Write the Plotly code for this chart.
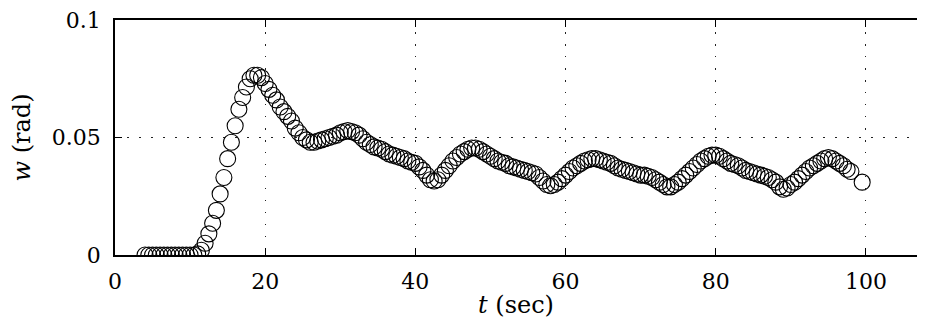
import numpy as np
import plotly.graph_objects as go

# time samples (sec)
t_sec = list(np.arange(4.0, 98.5, 0.5)) + [99.5]

# w (rad)
w_rad = [
    0, 0, 0, 0, 0, 0, 0, 0, 0, 0, 0, 0, 0, 0,                 # 4.0 - 10.5
    0.0005, 0.002, 0.005, 0.009, 0.0135, 0.019, 0.026, 0.033,  # 11.0 - 14.5
    0.041, 0.048, 0.055, 0.062, 0.067, 0.0715, 0.075, 0.0765,  # 15.0 - 18.5
    0.0765, 0.0755, 0.073, 0.0705, 0.068, 0.066, 0.063, 0.061, # 19.0 - 22.5
    0.059, 0.057, 0.054, 0.052, 0.050, 0.049, 0.048, 0.048,    # 23.0 - 26.5
    0.0485, 0.049, 0.0495, 0.050, 0.0505, 0.051, 0.052, 0.0525, # 27.0 - 30.5
    0.053, 0.0525, 0.052, 0.051, 0.0495, 0.048, 0.047, 0.046,  # 31.0 - 34.5
    0.0455, 0.045, 0.044, 0.043, 0.0425, 0.042, 0.0415, 0.041, # 35.0 - 38.5
    0.040, 0.0395, 0.039, 0.0375, 0.036, 0.034, 0.032, 0.0315, # 39.0 - 42.5
    0.032, 0.034, 0.036, 0.038, 0.040, 0.0415, 0.043, 0.044,   # 43.0 - 46.5
    0.045, 0.0455, 0.0455, 0.045, 0.044, 0.043, 0.042, 0.041,  # 47.0 - 50.5
    0.040, 0.0395, 0.039, 0.038, 0.0375, 0.037, 0.0365, 0.036, # 51.0 - 54.5
    0.0355, 0.035, 0.0345, 0.033, 0.0315, 0.030, 0.0295, 0.030, # 55.0 - 58.5
    0.031, 0.0325, 0.034, 0.0355, 0.037, 0.038, 0.039, 0.040,  # 59.0 - 62.5
    0.0405, 0.041, 0.041, 0.0405, 0.040, 0.0395, 0.039, 0.038, # 63.0 - 66.5
    0.037, 0.0365, 0.036, 0.0355, 0.035, 0.0345, 0.034, 0.034, # 67.0 - 70.5
    0.0335, 0.033, 0.032, 0.031, 0.030, 0.029, 0.029, 0.030,   # 71.0 - 74.5
    0.031, 0.0325, 0.034, 0.0355, 0.037, 0.0385, 0.040, 0.041, # 75.0 - 78.5
    0.042, 0.0425, 0.0425, 0.042, 0.041, 0.040, 0.039, 0.0385, # 79.0 - 82.5
    0.038, 0.037, 0.036, 0.0355, 0.035, 0.0345, 0.034, 0.0335, # 83.0 - 86.5
    0.033, 0.032, 0.031, 0.029, 0.028, 0.0285, 0.030, 0.031,   # 87.0 - 90.5
    0.0325, 0.034, 0.0355, 0.037, 0.038, 0.039, 0.040, 0.041,  # 91.0 - 94.5
    0.0415, 0.041, 0.040, 0.039, 0.038, 0.0365, 0.0355,        # 95.0 - 98.0
    0.031,                                                     # 99.5
]

x_ticks = [0, 20, 40, 60, 80, 100]
y_ticks = [0, 0.05, 0.1]
y_tick_labels = ["0", "0.05", "0.1"]

FONT = "DejaVu Serif"

fig = go.Figure()
fig.add_trace(go.Scatter(
    x=t_sec, y=w_rad, mode="markers",
    marker=dict(symbol="circle-open", size=16, color="black",
                line=dict(width=1.1, color="black")),
    showlegend=False,
))

fig.update_layout(
    width=909, height=311,
    margin=dict(l=107, r=0, t=12, b=64, autoexpand=False),
    paper_bgcolor="white", plot_bgcolor="white",
    font=dict(family=FONT, size=22, color="black"),
)
fig.update_xaxes(
    range=[0, 106.8], tickvals=x_ticks, automargin=False,
    showline=True, linecolor="black", linewidth=1.5, mirror="ticks",
    ticks="inside", ticklen=7, tickcolor="black", tickwidth=1,
    ticklabelstandoff=6, ticklabeloverflow="allow",
    showgrid=True, gridcolor="#222", griddash="1.5px,10.5px", gridwidth=1.2,
    zeroline=False,
    title=dict(text="<i>t</i> (sec)", font=dict(family=FONT, size=24), standoff=0),
)
fig.update_yaxes(
    range=[0, 0.1], tickvals=y_ticks, ticktext=y_tick_labels, automargin=False,
    showline=True, linecolor="black", linewidth=1.5, mirror=False,
    ticks="inside", ticklen=7, tickcolor="black", tickwidth=1,
    ticklabelstandoff=8, ticklabeloverflow="allow",
    showgrid=True, gridcolor="#222", griddash="1.5px,10.5px", gridwidth=1.2,
    zeroline=False,
    title=dict(text="<i>w</i> (rad)", font=dict(family=FONT, size=24), standoff=16),
)

fig.write_html("out.html")
